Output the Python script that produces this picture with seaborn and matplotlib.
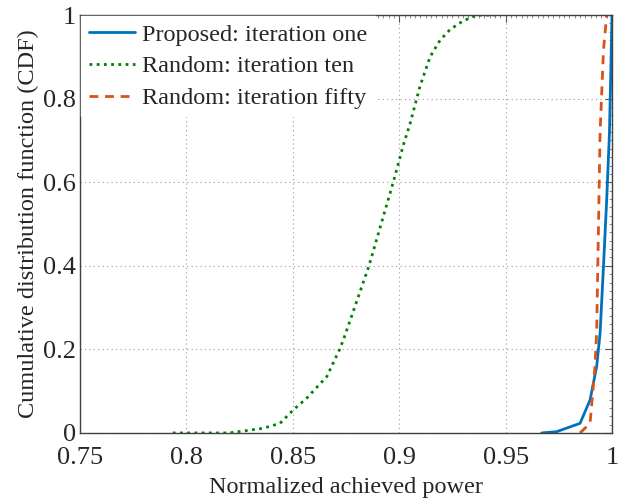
import numpy as np
import pandas as pd
import matplotlib
matplotlib.use("Agg")
import matplotlib.pyplot as plt
from matplotlib.ticker import MultipleLocator, FuncFormatter
import seaborn as sns

# CDF curves
proposed_x = [0.967, 0.974, 0.985, 0.9897, 0.9928, 0.9944, 0.996, 0.9975, 0.9988, 0.9995, 1.0]
proposed_y = [0.0, 0.003, 0.023, 0.079, 0.159, 0.238, 0.398, 0.557, 0.717, 0.877, 1.0]

rand10_x = [0.7936, 0.82, 0.836, 0.844, 0.8502, 0.8565, 0.866, 0.872, 0.8737, 0.877, 0.8797,
            0.8858, 0.8915, 0.8972, 0.902, 0.9051, 0.9098, 0.9145, 0.9192, 0.924, 0.930,
            0.9364, 0.945]
rand10_y = [0.0, 0.0, 0.011, 0.023, 0.055, 0.083, 0.135, 0.20, 0.222, 0.27, 0.31,
            0.40, 0.50, 0.60, 0.69, 0.74, 0.83, 0.90, 0.94, 0.966, 0.986,
            1.0, 1.0]

rand50_x = [0.985, 0.9897, 0.992, 0.9928, 0.9936, 0.9944, 0.996, 0.9975]
rand50_y = [0.0, 0.023, 0.159, 0.24, 0.478, 0.717, 0.916, 1.0]

labels = ["Proposed: iteration one", "Random: iteration ten", "Random: iteration fifty"]
colors = ["#0072BD", "#008000", "#D95319"]
styles = ["-", (0, (1, 1.6)), (0, (3.2, 2.4))]

sns.set_style("white")
plt.rcParams["font.family"] = ["Liberation Serif", "DejaVu Serif"]

fig, ax = plt.subplots(figsize=(6.3, 5.04), dpi=100)
fig.subplots_adjust(left=0.127, right=0.9714, bottom=0.141, top=0.970)

series = [(proposed_x, proposed_y), (rand10_x, rand10_y), (rand50_x, rand50_y)]
for (xs, ys), lab, col, ls in zip(series, labels, colors, styles):
    df = pd.DataFrame({"power": xs, "cdf": ys})
    sns.lineplot(data=df, x="power", y="cdf", ax=ax, color=col, linestyle=ls,
                 linewidth=2.0, label=lab, sort=False, estimator=None)

ax.set_xlim(0.75, 1.0)
ax.set_ylim(0, 1)
ax.xaxis.set_major_locator(MultipleLocator(0.05))
ax.yaxis.set_major_locator(MultipleLocator(0.2))
ax.xaxis.set_minor_locator(MultipleLocator(0.0025))
ax.yaxis.set_minor_locator(MultipleLocator(0.02))

def fmt(v, pos):
    s = f"{v:.2f}".rstrip("0").rstrip(".")
    return s if s else "0"

ax.xaxis.set_major_formatter(FuncFormatter(fmt))
ax.yaxis.set_major_formatter(FuncFormatter(fmt))

ax.tick_params(which="major", direction="in", length=5, width=0.8, color="#555555",
               top=True, right=True, labelsize=19, pad=3)
ax.tick_params(which="minor", direction="in", length=2, width=0.6, color="#777777",
               top=True, right=True)
ax.tick_params(axis="x", pad=10)

ax.grid(True, which="major", linestyle=(0, (1, 3)), color="#9a9a9a", linewidth=0.8)
for sp in ax.spines.values():
    sp.set_color("#404040")
    sp.set_linewidth(1.0)

ax.set_xlabel("Normalized achieved power", fontsize=17.5, labelpad=6)
ax.set_ylabel("Cumulative distribution function (CDF)", fontsize=17.5, labelpad=3)

leg = ax.legend(loc="upper left", fontsize=17.5, frameon=True, fancybox=False,
                borderaxespad=0.05, handlelength=1.9, handletextpad=0.3,
                labelspacing=0.4, borderpad=0.3)
leg.get_frame().set_edgecolor("white")
leg.get_frame().set_facecolor("white")
leg.get_frame().set_alpha(1.0)

fig.savefig("out.png", dpi=100)
